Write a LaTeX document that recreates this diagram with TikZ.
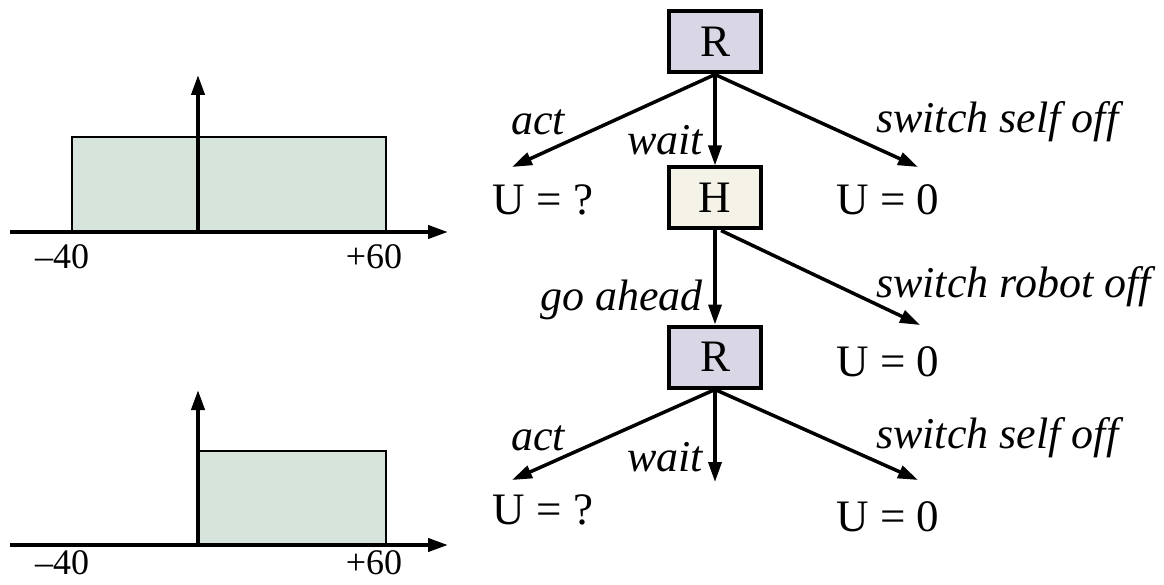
\documentclass[tikz,border=0pt]{standalone}
\usepackage{fontspec}
\setmainfont{Liberation Serif}
\usetikzlibrary{arrows.meta}
\definecolor{rfill}{HTML}{D9D6E6}
\definecolor{hfill}{HTML}{F5F3E7}
\definecolor{gfill}{HTML}{D6E4DC}
\begin{document}
\begin{tikzpicture}[x=1pt,y=-1pt,
  conn/.style={line width=3.5pt,-{Triangle[length=20pt,width=13pt]}},
  axisline/.style={line width=4pt,-{Triangle[length=20pt,width=13pt]}},
  box/.style={draw,line width=4pt,minimum width=92pt,minimum height=61pt,inner sep=0pt,font=\fontsize{45}{50}\selectfont},
  rbox/.style={box,fill=rfill},
  hbox/.style={box,fill=hfill},
  leaf/.style={inner sep=0pt,font=\fontsize{45}{50}\selectfont},
  elab/.style={inner sep=0pt,font=\fontsize{44}{50}\selectfont\itshape},
  tick/.style={inner sep=0pt,font=\fontsize{36}{40}\selectfont},
  bar/.style={draw,line width=2pt,fill=gfill}
]
\path[use as bounding box] (0,0) rectangle (1164,585);

% ---- top graph ----
\draw[bar] (72,137) rectangle (386,232);
\coordinate (a1s) at (10,232);
\coordinate (a1e) at (448,232);
\coordinate (v1s) at (198,232);
\coordinate (v1e) at (198,75);
\draw[axisline] (a1s) -- (a1e);
\draw[axisline] (v1s) -- (v1e);
\node[tick] (t1) at (62,257) {–40};
\node[tick] (t2) at (374,257) {+60};

% ---- bottom graph ----
\draw[bar] (198,451) rectangle (386,545);
\coordinate (a2s) at (10,545);
\coordinate (a2e) at (448,545);
\coordinate (v2s) at (198,545);
\coordinate (v2e) at (198,390);
\draw[axisline] (a2s) -- (a2e);
\draw[axisline] (v2s) -- (v2e);
\node[tick] (t3) at (62,563) {–40};
\node[tick] (t4) at (374,563) {+60};

% ---- tree ----
\node[rbox] (R1) at (715,42) {R};
\node[hbox] (H) at (715,198) {H};
\node[rbox] (R2) at (715,357) {R};

\node[leaf] (U1) at (543,200) {U = ?};
\node[leaf] (U2) at (888,200) {U = 0};
\node[leaf] (U3) at (888,362) {U = 0};
\node[leaf] (U4) at (543,510) {U = ?};
\node[leaf] (U5) at (888,517) {U = 0};

\coordinate (p1) at (512,167);
\coordinate (p2) at (918,167);
\coordinate (p3) at (920,325);
\coordinate (p4) at (512,480);
\coordinate (p5) at (715,482);
\coordinate (p6) at (918,480);

\draw[conn] (R1.south) -- (p1);
\draw[conn] (R1.south) -- (H.north);
\draw[conn] (R1.south) -- (p2);
\draw[conn] (H.south) -- (R2.north);
\draw[conn] ([xshift=6pt]H.south) -- (p3);
\draw[conn] (R2.south) -- (p4);
\draw[conn] (R2.south) -- (p5);
\draw[conn] (R2.south) -- (p6);

\node[elab] (l1) at (538,122) {act};
\node[elab,anchor=east] (l2) at (703,140) {wait};
\node[elab,anchor=west] (l3) at (876,122) {switch self off};
\node[elab,anchor=east] (l4) at (703,300) {go ahead};
\node[elab,anchor=west] (l5) at (876,287) {switch robot off};
\node[elab] (l6) at (538,438) {act};
\node[elab,anchor=east] (l7) at (703,457) {wait};
\node[elab,anchor=west] (l8) at (876,438) {switch self off};
\end{tikzpicture}
\end{document}
